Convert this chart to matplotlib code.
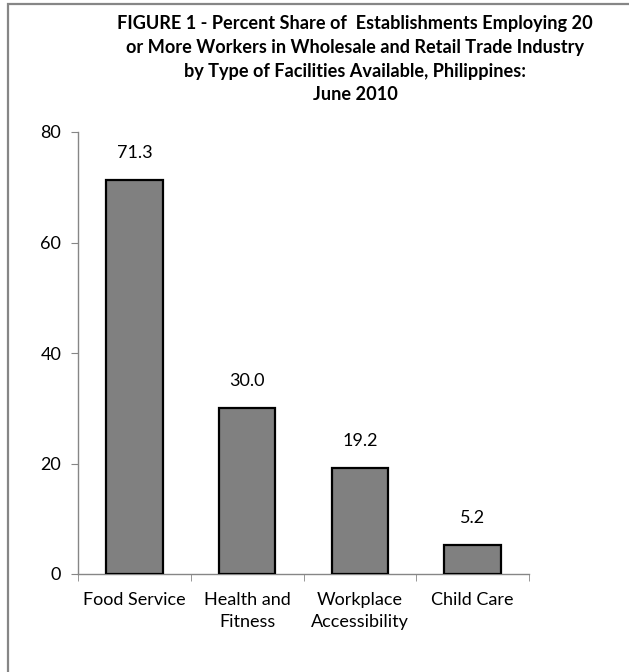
import matplotlib
matplotlib.use('Agg')
import matplotlib.pyplot as plt
from matplotlib.patches import Rectangle

categories = ['Food Service', 'Health and\nFitness', 'Workplace\nAccessibility', 'Child Care']
values = [71.3, 30.0, 19.2, 5.2]
yticks = [0, 20, 40, 60, 80]

title_lines = ['FIGURE 1 - Percent Share of  Establishments Employing 20',
               'or More Workers in Wholesale and Retail Trade Industry',
               'by Type of Facilities Available, Philippines:',
               'June 2010']

plt.rcParams['font.family'] = ['Lato', 'DejaVu Sans']

W, H = 629, 672
fig = plt.figure(figsize=(W / 100, H / 100), dpi=100)
fig.patch.set_facecolor('white')

# outer chart border (only left and top visible in the reference)
fig.patches.append(Rectangle((8 / W, -0.05), 1.2, 1 - 4 / H + 0.05, transform=fig.transFigure,
                             fill=False, edgecolor='#868686', linewidth=1.6))

ax = fig.add_axes([78 / W, 1 - 574 / H, (529 - 78) / W, (574 - 132) / H])

x = list(range(len(values)))
ax.bar(x, values, width=0.5, color='#808080', edgecolor='black', linewidth=1.6, zorder=3)

for xi, v in zip(x, values):
    ax.annotate(f'{v:.1f}', (xi, v), xytext=(0, 19.5), textcoords='offset points',
                ha='center', va='center', fontsize=13, color='black')

ax.set_xlim(-0.5, len(values) - 0.5)
ax.set_ylim(0, 80)
ax.set_yticks(yticks)
ax.set_xticks(x)
ax.set_xticklabels(categories, fontsize=13, linespacing=1.45)
ax.set_xticks([i - 0.5 for i in range(len(values) + 1)], minor=True)
ax.tick_params(axis='x', which='major', length=0, pad=13)
ax.tick_params(axis='x', which='minor', length=5, color='#868686', direction='out')
ax.tick_params(axis='y', length=5, color='#868686', direction='out', labelsize=13, pad=7)

for s in ['top', 'right']:
    ax.spines[s].set_visible(False)
for s in ['left', 'bottom']:
    ax.spines[s].set_color('#868686')
    ax.spines[s].set_linewidth(1.0)

ys = [23, 47, 71, 95]
for line, yy in zip(title_lines, ys):
    fig.text(355 / W, 1 - yy / H, line, ha='center', va='center', fontsize=13.1, fontweight='bold')

fig.savefig('out.png', dpi=100)
